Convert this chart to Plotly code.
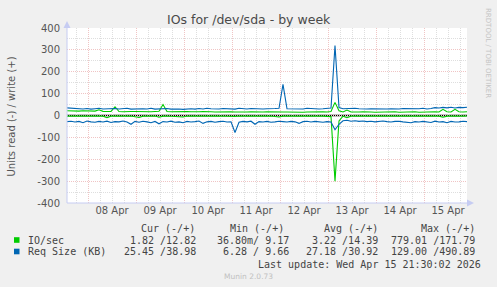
import pandas as pd
import numpy as np
import plotly.graph_objects as go

# ---------------- data (2-hour samples, Apr 7 13:30 -> Apr 15 21:30) ----------------
start_time = "2026-04-07 13:30"
end_time = "2026-04-15 21:30"
sample_freq = "2h"

io_write = [22, 21, 23, 20, 22, 21, 22, 20, 26, 19,
            18, 19, 40, 18, 17, 19, 18, 18, 17, 19,
            18, 17, 18, 19, 50, 18, 17, 18, 19, 17,
            18, 17, 16, 17, 18, 16, 17, 16, 17, 18,
            16, 17, 16, 15, 17, 16, 17, 16, 15, 16,
            17, 16, 15, 17, 16, 16, 15, 17, 16, 15,
            16, 17, 15, 16, 17, 16, 18, 60, 22, 16,
            25, 16, 15, 16, 17, 15, 16, 15, 16, 17,
            15, 16, 17, 15, 16, 15, 16, 17, 15, 16,
            16, 15, 17, 16, 28, 17, 16, 28, 17, 16,
            17]

io_read = [3, 2, 3, 2, 3, 4, 2, 3, 2, 3,
           10, 3, 2, 3, 2, 3, 2, 4, 9, 3,
           2, 3, 2, 8, 3, 2, 3, 2, 3, 7,
           2, 3, 2, 3, 2, 3, 2, 3, 2, 3,
           3, 2, 4, 2, 3, 2, 3, 2, 3, 2,
           3, 2, 3, 7, 3, 2, 3, 2, 3, 2,
           3, 2, 3, 2, 3, 4, 5, 300, 25, 3,
           10, 3, 2, 3, 2, 3, 2, 3, 2, 3,
           2, 3, 2, 3, 2, 3, 2, 3, 2, 3,
           2, 3, 2, 3, 8, 3, 2, 3, 2, 3,
           2]

size_write = [35, 34, 31, 33, 30, 32, 29, 31, 33, 30,
              31, 29, 32, 30, 31, 33, 29, 30, 32, 31,
              30, 33, 29, 31, 30, 32, 29, 31, 30, 28,
              30, 31, 29, 32, 30, 33, 31, 29, 30, 32,
              31, 30, 29, 33, 31, 30, 32, 31, 29, 30,
              31, 30, 32, 33, 142, 31, 30, 32, 31, 30,
              33, 31, 32, 30, 31, 33, 34, 320, 36, 31,
              32, 30, 33, 31, 29, 30, 31, 30, 32, 29,
              30, 31, 29, 30, 32, 31, 30, 32, 31, 33,
              30, 32, 36, 34, 37, 35, 38, 34, 37, 36,
              38]

size_read = [28, 26, 30, 27, 33, 25, 29, 31, 27, 30,
             26, 32, 28, 29, 25, 30, 40, 27, 31, 26,
             29, 33, 27, 38, 28, 30, 26, 31, 29, 33,
             27, 30, 28, 25, 36, 29, 27, 31, 28, 26,
             30, 29, 78, 31, 27, 29, 26, 40, 28, 30,
             27, 31, 29, 26, 28, 30, 27, 29, 36, 28,
             26, 30, 27, 29, 31, 28, 30, 65, 40, 24,
             22, 26, 24, 27, 25, 28, 26, 29, 27, 25,
             28, 30, 27, 26, 29, 31, 33, 28, 30, 27,
             29, 32, 26, 30, 28, 33, 27, 30, 29, 26,
             28]

y_tick_vals = [-400, -300, -200, -100, 0, 100, 200, 300, 400]
y_tick_text = ["-400", "-300", "-200", "-100", "0", "100", "200", "300", "400"]

series_labels = ["IO/sec", "Req Size (KB)"]
series_colors = ["#00cc00", "#0066b3"]
legend_header = ["Cur (-/+)", "Min (-/+)", "Avg (-/+)", "Max (-/+)"]
legend_rows = [
    ["1.82 /12.82", "36.80m/ 9.17", "3.22 /14.39", "779.01 /171.79"],
    ["25.45 /38.98", "6.28 / 9.66", "27.18 /30.92", "129.00 /490.89"],
]
title_text = "IOs for /dev/sda - by week"
y_title = "Units read (-) / write (+)"
last_update = "Last update: Wed Apr 15 21:30:02 2026"
munin_version = "Munin 2.0.73"
rrd_credit = "RRDTOOL / TOBI OETIKER"

# ---------------- layout geometry (pixels) ----------------
W, H = 497, 287
PL, PR, PT, PB = 67, 467, 28, 203


def px(x):
    return (x - PL) / (PR - PL)


def py(y):
    return (PB - y) / (PB - PT)


times = pd.date_range(start_time, end_time, freq=sample_freq)

fig = go.Figure()
line_w = 1.1
fig.add_trace(go.Scatter(x=times, y=-np.array(io_read), mode="lines",
                         line=dict(color=series_colors[0], width=line_w), showlegend=False))
fig.add_trace(go.Scatter(x=times, y=np.array(io_write), mode="lines",
                         line=dict(color=series_colors[0], width=line_w), showlegend=False))
fig.add_trace(go.Scatter(x=times, y=-np.array(size_read), mode="lines",
                         line=dict(color=series_colors[1], width=line_w), showlegend=False))
fig.add_trace(go.Scatter(x=times, y=np.array(size_write), mode="lines",
                         line=dict(color=series_colors[1], width=line_w), showlegend=False))

major_grid = "#f0c4c4"
minor_grid = "#dedede"
dash = "1px,1px"
tick_font = dict(family="DejaVu Sans", size=10, color="#555555")
mono = "DejaVu Sans Mono"

fig.update_xaxes(
    type="date",
    range=[start_time, end_time],
    tick0="2026-04-08 00:00",
    dtick=86400000,
    ticklabelmode="period",
    tickformat="%d %b",
    showgrid=True, gridcolor=major_grid, griddash=dash, gridwidth=1,
    minor=dict(dtick=6 * 3600000, tick0="2026-04-08 00:00", showgrid=True,
               gridcolor=minor_grid, griddash=dash, gridwidth=1),
    zeroline=False, showline=False,
    tickfont=tick_font, ticks="", fixedrange=True,
)
fig.update_yaxes(
    range=[-400, 400],
    tickmode="array", tickvals=y_tick_vals, ticktext=y_tick_text,
    showgrid=True, gridcolor=major_grid, griddash=dash, gridwidth=1,
    minor=dict(dtick=50, tick0=0, showgrid=True,
               gridcolor=minor_grid, griddash=dash, gridwidth=1),
    zeroline=False, showline=False,
    tickfont=tick_font, ticks="", ticklabelstandoff=6, fixedrange=True,
)

axis_col = "#c6ccf2"
shapes = [
    # zero line
    dict(type="line", xref="paper", yref="y", x0=0, x1=1, y0=0, y1=0,
         line=dict(color="#000000", width=1.6), layer="between"),
    # axis lines
    dict(type="line", xref="paper", yref="paper", x0=0, x1=0, y0=0, y1=py(24),
         line=dict(color=axis_col, width=1), layer="above"),
    dict(type="line", xref="paper", yref="paper", x0=0, x1=px(471), y0=0, y1=0,
         line=dict(color=axis_col, width=1), layer="above"),
    # arrows
    dict(type="path", xref="paper", yref="paper",
         path=f"M {px(63.5)},{py(28)} L {px(67)},{py(21)} L {px(70.5)},{py(28)} Z",
         fillcolor=axis_col, line=dict(width=0), layer="above"),
    dict(type="path", xref="paper", yref="paper",
         path=f"M {px(467)},{py(199.5)} L {px(474)},{py(203)} L {px(467)},{py(206.5)} Z",
         fillcolor=axis_col, line=dict(width=0), layer="above"),
]

annotations = [
    dict(text=title_text, xref="paper", yref="paper", x=px(248.5), y=py(19.5),
         xanchor="center", yanchor="middle", showarrow=False,
         font=dict(family="DejaVu Sans", size=12.5, color="#4a4a4a")),
    dict(text=y_title, xref="paper", yref="paper", x=px(10.5), y=py(117),
         xanchor="center", yanchor="middle", showarrow=False, textangle=-90,
         font=dict(family="DejaVu Sans", size=10, color="#555555")),
    dict(text=rrd_credit, xref="paper", yref="paper", x=px(488), y=py(53),
         xanchor="center", yanchor="middle", showarrow=False, textangle=90,
         font=dict(family="DejaVu Sans", size=7, color="#c4c4c4")),
]

# legend table
col_right = [197.5, 291, 379.5, 477]
header_right = [197, 286, 379.5, 476.5]
row_y = [240, 251.5]
header_y = 228.5
leg_font = dict(family=mono, size=10, color="#444444")
for hx, h in zip(header_right, legend_header):
    annotations.append(dict(text=h, xref="paper", yref="paper", x=px(hx), y=py(header_y),
                            xanchor="right", yanchor="middle", showarrow=False, font=leg_font))
for ry, lab, col, cells in zip(row_y, series_labels, series_colors, legend_rows):
    shapes.append(dict(type="rect", xref="paper", yref="paper",
                       x0=px(14), x1=px(19.5), y0=py(ry - 2.8), y1=py(ry + 2.8),
                       fillcolor=col, line=dict(width=0)))
    annotations.append(dict(text=lab, xref="paper", yref="paper", x=px(25.5), y=py(ry),
                            xanchor="left", yanchor="middle", showarrow=False, font=leg_font))
    for cx, c in zip(col_right, cells):
        annotations.append(dict(text=c, xref="paper", yref="paper", x=px(cx), y=py(ry),
                                xanchor="right", yanchor="middle", showarrow=False, font=leg_font))
annotations.append(dict(text=last_update, xref="paper", yref="paper", x=px(483), y=py(264),
                        xanchor="right", yanchor="middle", showarrow=False, font=leg_font))
annotations.append(dict(text=munin_version, xref="paper", yref="paper", x=px(248), y=py(276.5),
                        xanchor="center", yanchor="middle", showarrow=False,
                        font=dict(family="DejaVu Sans", size=7.5, color="#c0c0c0")))

fig.update_layout(
    width=W, height=H, autosize=False,
    margin=dict(l=PL, r=W - PR, t=PT, b=H - PB, pad=0),
    paper_bgcolor="#f0f0f0", plot_bgcolor="#ffffff",
    shapes=shapes, annotations=annotations,
    showlegend=False,
)

fig.write_html("out.html", config={"displayModeBar": False, "staticPlot": True})
